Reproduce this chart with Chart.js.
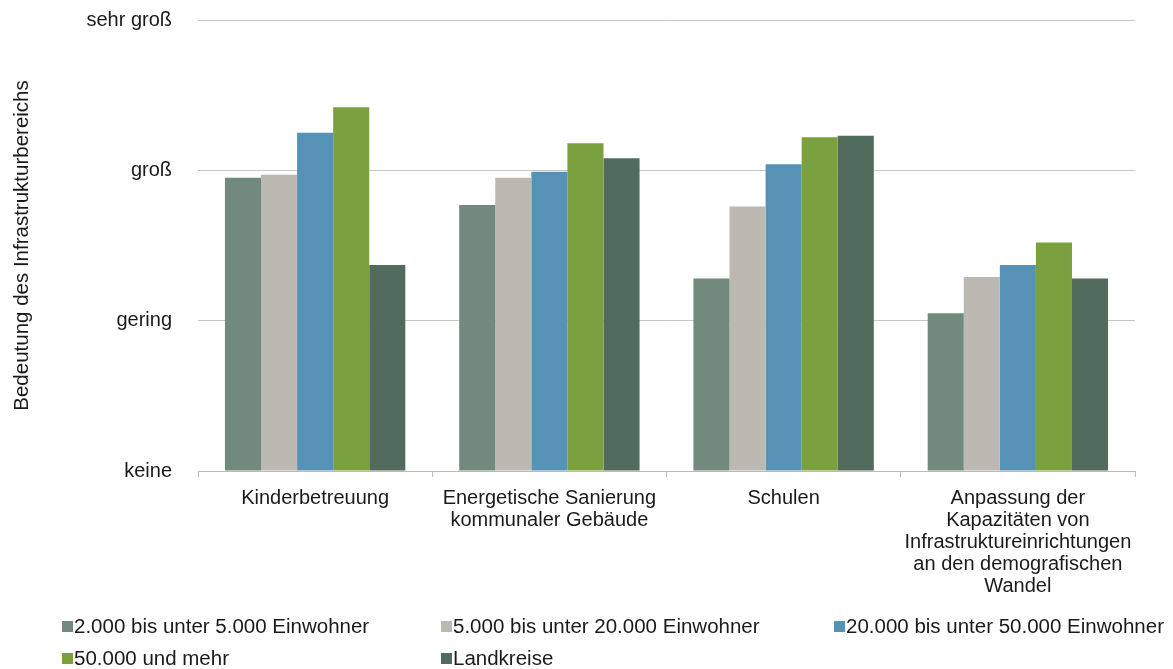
<!DOCTYPE html>
<html lang="de">
<head>
<meta charset="utf-8">
<script src="https://cdn.jsdelivr.net/npm/chart.js@4"></script>
<style>
  html, body { margin: 0; padding: 0; background: #fff; }
  #wrap { position: relative; width: 1173px; height: 669px; }
</style>
</head>
<body>
<div id="wrap"><canvas id="chart" width="1173" height="669"></canvas></div>
<script>
const categories = [
    "Kinderbetreuung",
    ["Energetische Sanierung", "kommunaler Gebäude"],
    "Schulen",
    ["Anpassung der", "Kapazitäten von", "Infrastruktureinrichtungen", "an den demografischen", "Wandel"]
];
const seriesNames = [
    "2.000 bis unter 5.000 Einwohner",
    "5.000 bis unter 20.000 Einwohner",
    "20.000 bis unter 50.000 Einwohner",
    "50.000 und mehr",
    "Landkreise"
];
const seriesColors = ["#728a7e", "#bcb8b2", "#5592b5", "#7ba13f", "#516b5c"];
const bis5000 = [1.95, 1.77, 1.28, 1.05];
const bis20000 = [1.97, 1.95, 1.76, 1.29];
const bis50000 = [2.25, 1.99, 2.04, 1.37];
const ab50000 = [2.42, 2.18, 2.22, 1.52];
const landkreise = [1.37, 2.08, 2.23, 1.28];
const yLabels = ["keine", "gering", "groß", "sehr groß"];

const values = [bis5000, bis20000, bis50000, ab50000, landkreise];
const font = "'Liberation Sans', Arial, sans-serif";
const textColor = "#1a1a1a";

// legend drawn in a 3-column grid like the original
const legendGrid = {
    id: "legendGrid",
    afterDraw(c) {
        const ctx = c.ctx;
        const cols = [62, 441, 834];
        const rows = [626, 658];
        ctx.save();
        ctx.font = "20.5px " + font;
        ctx.textBaseline = "middle";
        seriesNames.forEach((name, i) => {
            const x = cols[i % 3];
            const y = rows[Math.floor(i / 3)];
            ctx.fillStyle = seriesColors[i];
            ctx.fillRect(x, y - 5, 11, 11);
            ctx.fillStyle = textColor;
            ctx.fillText(name, x + 12, y + 1);
        });
        ctx.restore();
    }
};

new Chart(document.getElementById("chart"), {
    type: "bar",
    data: {
        labels: categories,
        datasets: seriesNames.map((name, i) => ({
            label: name,
            data: values[i],
            backgroundColor: seriesColors[i],
            borderWidth: 0,
            barPercentage: 1,
            categoryPercentage: 0.77
        }))
    },
    options: {
        responsive: false,
        animation: false,
        layout: { padding: { top: 0, right: 38, bottom: 62, left: 10 } },
        plugins: {
            legend: { display: false },
            tooltip: { enabled: false }
        },
        scales: {
            x: {
                grid: { drawOnChartArea: false, tickLength: 6, color: "#bdbab4" },
                border: { color: "#bdbab4", width: 1 },
                ticks: { color: textColor, font: { family: font, size: 20, lineHeight: 1.1 }, padding: 10, maxRotation: 0 }
            },
            y: {
                min: 0,
                max: 3,
                afterFit(scale) { scale.width = 188; },
                // invisible tick marks give the gap between labels and plot
                grid: { color: "#c9c7c1", tickLength: 18, tickColor: "rgba(0,0,0,0)" },
                border: { display: false },
                ticks: {
                    stepSize: 1,
                    padding: 8,
                    color: textColor,
                    font: { family: font, size: 20 },
                    callback: v => yLabels[v]
                },
                title: {
                    display: true,
                    text: "Bedeutung des Infrastrukturbereichs",
                    color: textColor,
                    font: { family: font, size: 20.5 },
                    padding: 0
                }
            }
        }
    },
    plugins: [legendGrid]
});
</script>
</body>
</html>
